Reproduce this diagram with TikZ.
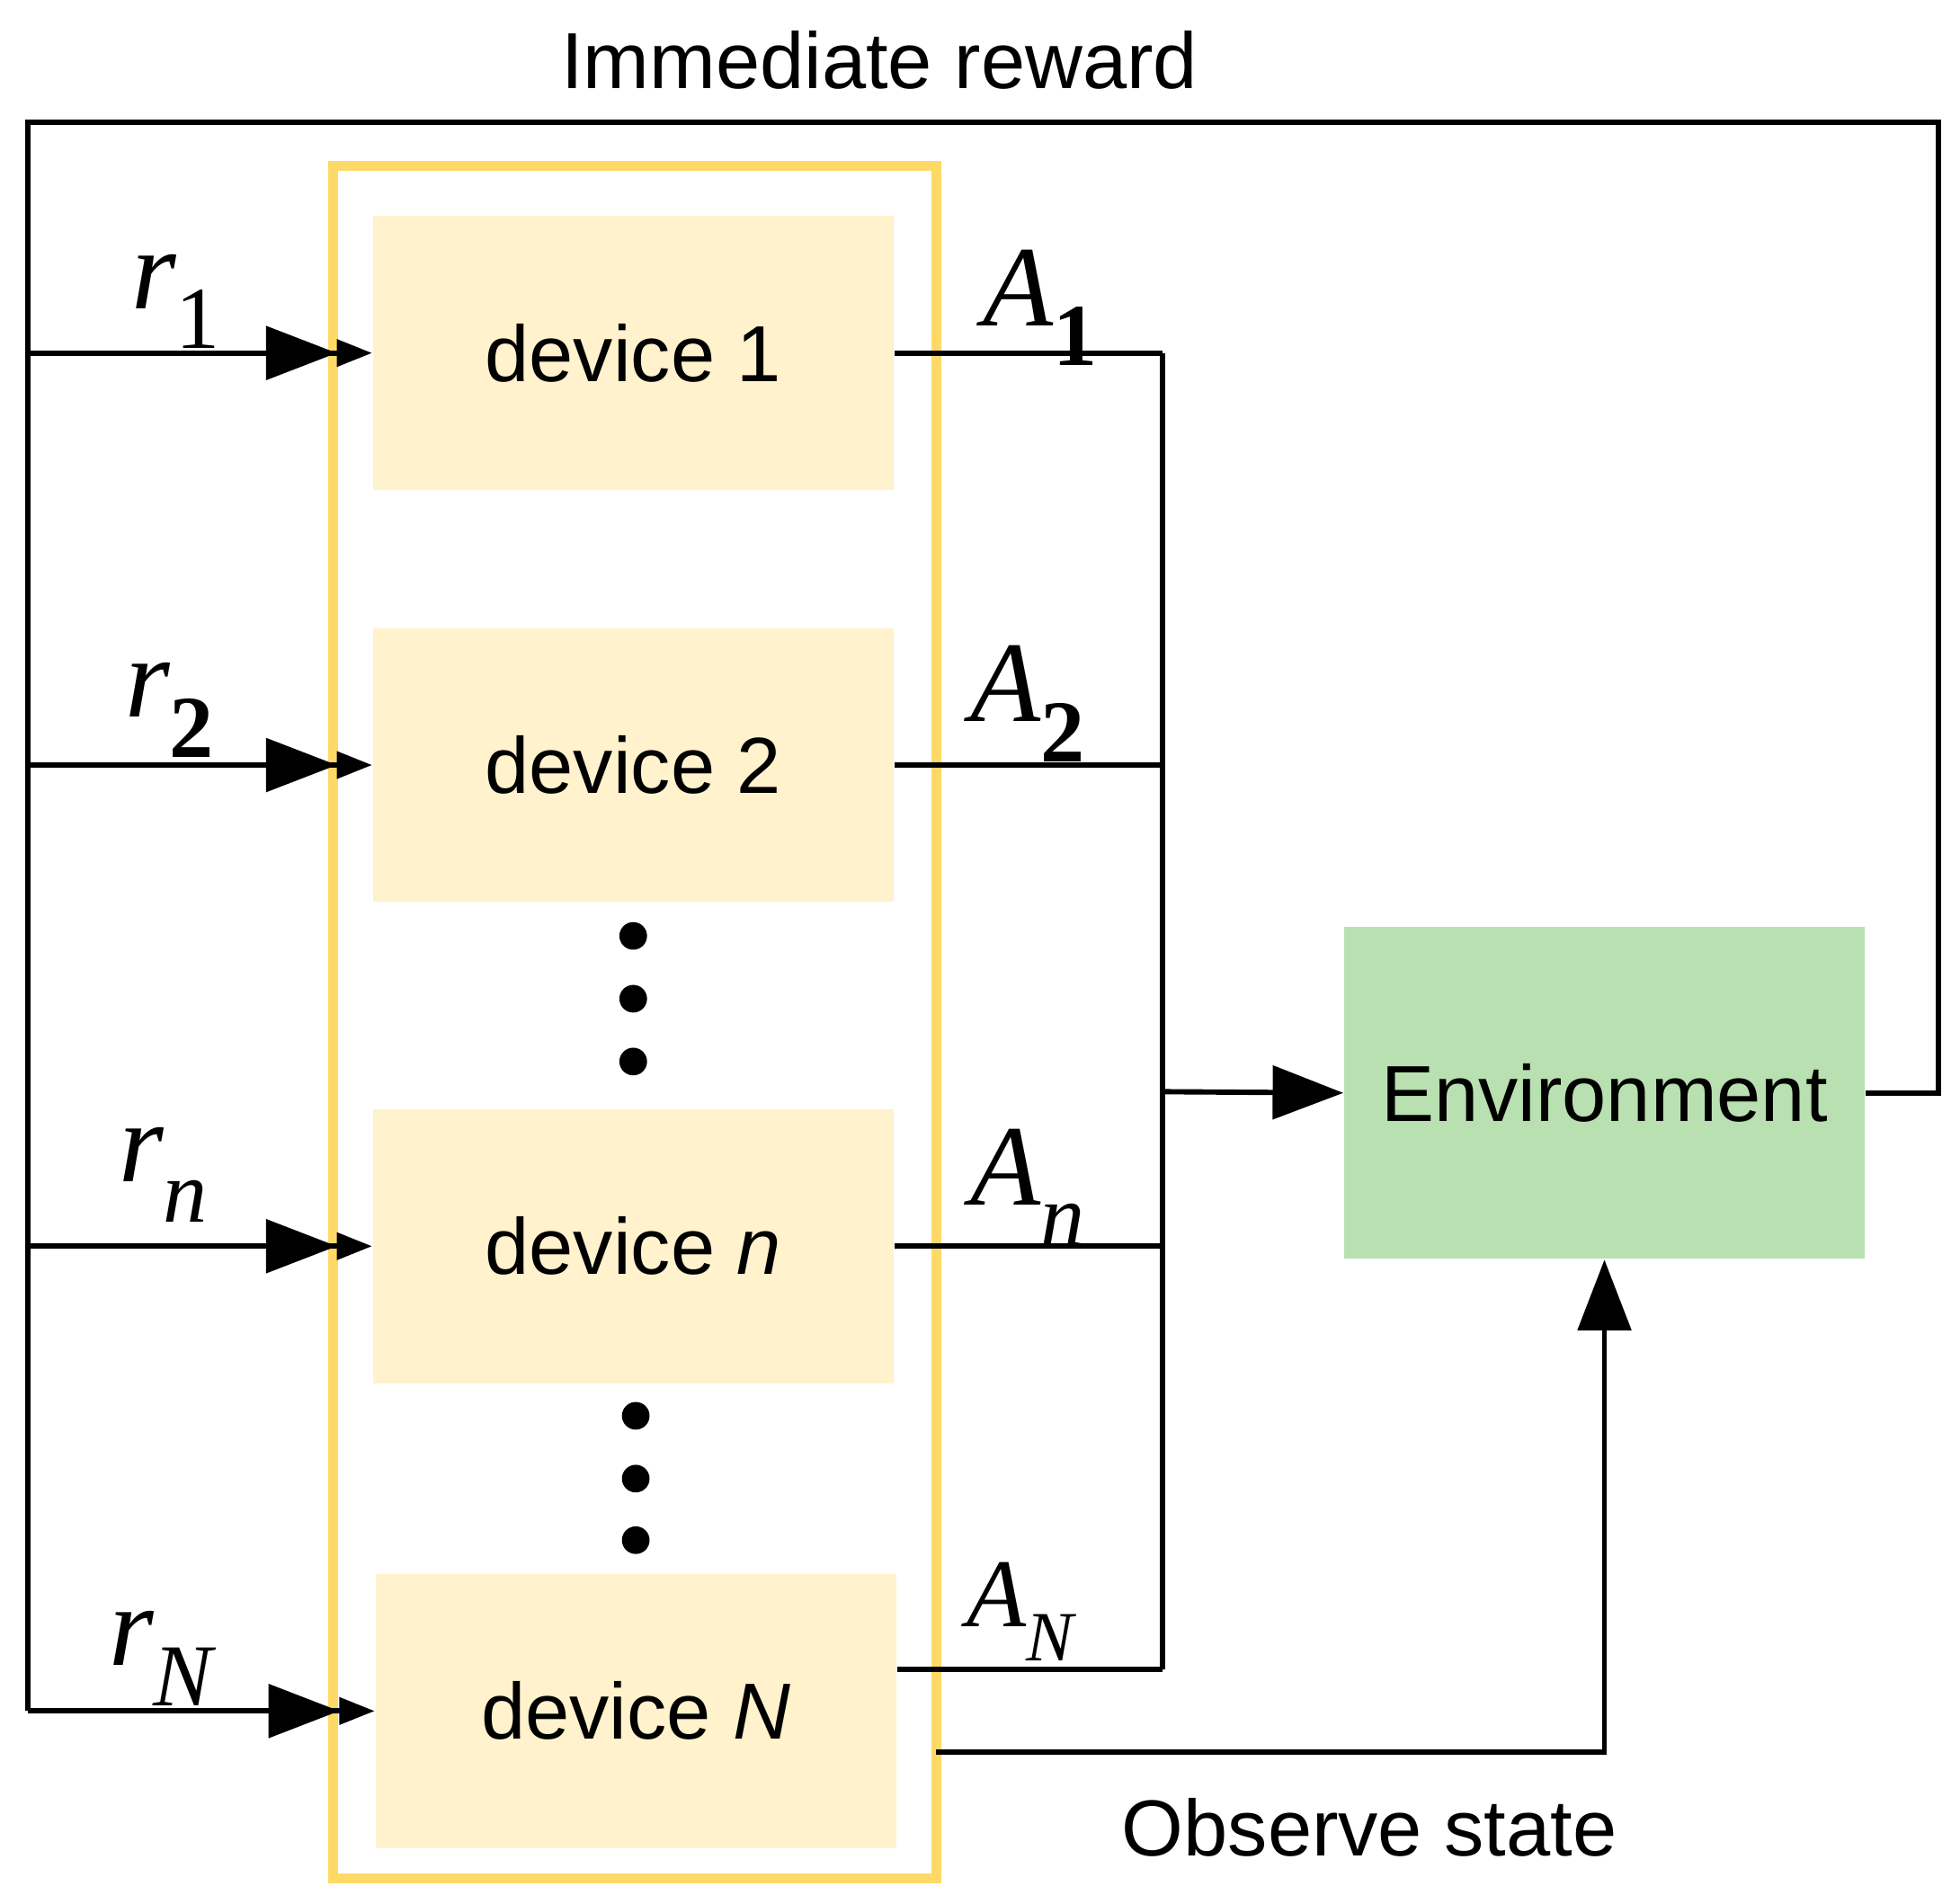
\documentclass[tikz,border=0pt]{standalone}
\usepackage{fontspec}
\setmainfont{Liberation Sans}
\newfontfamily\serifit{Liberation Serif}[ItalicFont={Liberation Serif Italic}]
\usetikzlibrary{arrows.meta}
\definecolor{frameY}{HTML}{FFD966}
\definecolor{devF}{HTML}{FFF2CC}
\definecolor{envF}{HTML}{B9E0B0}
\begin{document}
\begin{tikzpicture}[x=0.01cm,y=-0.01cm,
  dev/.style={fill=devF,draw=none,minimum width=4.14cm,minimum height=2.18cm,font=\fontsize{18}{20}\selectfont},
  ln/.style={line width=1.2pt},
  inarr/.style={ln,-{Triangle[length=16pt,width=12pt]Triangle[length=8pt,width=6pt]}},
  bigarr/.style={ln,-{Triangle[length=16pt,width=12pt]}},
  rl/.style={font=\serifit\fontsize{26}{28}\selectfont\itshape},
  al/.style={font=\serifit\fontsize{26}{28}\selectfont\itshape},
  dot/.style={circle,fill=black,inner sep=0pt,minimum size=0.22cm}]
\useasboundingbox (0,0) rectangle (1560,1515);
\node[font=\fontsize{18}{20}\selectfont] (title) at (700,48) {Immediate reward};
\draw[frameY,line width=2.2pt] (265,132) rectangle (745,1495);
\node[dev] (d1) at (504,281) {device 1};
\node[dev] (d2) at (504,609) {device 2};
\node[dev] (dn) at (504,992) {device \textit{n}};
\node[dev] (dN) at (506,1362) {device \textit{N}};
\node[fill=envF,minimum width=4.14cm,minimum height=2.64cm,font=\fontsize{18}{20}\selectfont] (env) at (1277,870) {Environment};
\foreach \y/\n in {745/a,795/b,845/c} \node[dot] (p\n) at (504,\y) {};
\foreach \y/\n in {1127/a,1177/b,1226/c} \node[dot] (q\n) at (506,\y) {};
% reward feedback
\coordinate (c1) at (1543,870);
\coordinate (c2) at (1543,97);
\coordinate (c3) at (22,97);
\coordinate (c4) at (22,1362);
\draw[ln] (env.east) -- (c1) -- (c2) -- (c3) -- (c4);
\foreach \d/\y in {d1/281,d2/609,dn/992,dN/1362}{
  \coordinate (l\d) at (22,\y);
  \draw[inarr] (l\d) -- (\d.west);
}
\node[rl] (r1) at (140,240) {r\raisebox{-0.35em}{\fontsize{20}{20}\selectfont\upshape 1}};
\node[rl] (r2) at (135,565) {r\raisebox{-0.35em}{\fontsize{20}{20}\selectfont\upshape\bfseries 2}};
\node[rl] (rn) at (130,935) {r\raisebox{-0.35em}{\fontsize{20}{20}\selectfont n}};
\node[rl] (rN) at (128,1320) {r\raisebox{-0.35em}{\fontsize{20}{20}\selectfont N}};
% actions
\coordinate (b1) at (925,281);
\coordinate (b2) at (925,609);
\coordinate (bn) at (925,992);
\coordinate (bN) at (925,1329);
\coordinate (bm) at (925,869);
\draw[ln] (d1.east) -- (b1);
\draw[ln] (d2.east) -- (b2);
\draw[ln] (dn.east) -- (bn);
\draw[ln] (dN.east |- bN) -- (bN);
\draw[ln] (b1) -- (bN);
\draw[bigarr] (bm) -- (env.west);
\node[al] (A1) at (828,245) {A\raisebox{-0.35em}{\fontsize{20}{20}\selectfont\upshape\bfseries 1}};
\node[al] (A2) at (818,560) {A\raisebox{-0.35em}{\fontsize{20}{20}\selectfont\upshape\bfseries 2}};
\node[al] (An) at (818,945) {A\raisebox{-0.35em}{\fontsize{20}{20}\selectfont n}};
\node[al,font=\serifit\fontsize{22}{24}\selectfont\itshape] (AN) at (812,1283) {A\raisebox{-0.35em}{\fontsize{16}{16}\selectfont N}};
% observe state
\coordinate (o1) at (745,1395);
\coordinate (o2) at (1277,1395);
\draw[bigarr] (o1) -- (o2) -- (env.south);
\node[font=\fontsize{18}{20}\selectfont] (obs) at (1090,1455) {Observe state};
\end{tikzpicture}
\end{document}
